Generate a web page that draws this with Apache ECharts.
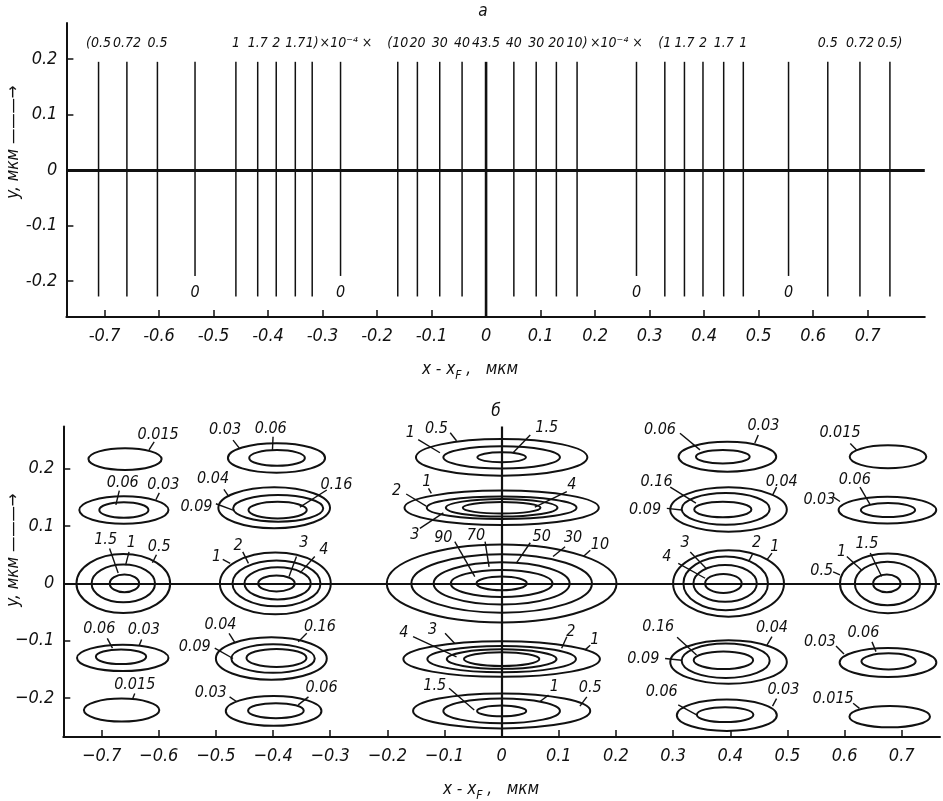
<!DOCTYPE html>
<html>
<head>
<meta charset="utf-8">
<script src="https://cdn.jsdelivr.net/npm/echarts@6/dist/echarts.min.js"></script>
<style>
  html, body { margin: 0; background: #fff; }
  #chart { width: 943px; height: 801px; }
</style>
</head>
<body>
<div id="chart"></div>
<script>
const FONT = '"Liberation Sans Narrow", "DejaVu Sans Condensed", "DejaVu Sans", sans-serif';
const INK = '#111';

// ---- panel a: intensity lines along y = 0 ----
const xTicks = [-0.7, -0.6, -0.5, -0.4, -0.3, -0.2, -0.1, 0, 0.1, 0.2, 0.3, 0.4, 0.5, 0.6, 0.7];
const yTicks = [-0.2, -0.1, 0, 0.1, 0.2];
const peakX = [-0.711, -0.659, -0.603, -0.459, -0.419, -0.385, -0.350, -0.319,
  -0.162, -0.126, -0.085, -0.044, 0, 0.051, 0.092, 0.129, 0.167,
  0.328, 0.364, 0.398, 0.436, 0.472, 0.627, 0.686, 0.741];
const peakLabels = ['(0.5', '0.72', '0.5', '1', '1.7', '2', '1.7', '1)',
  '(10', '20', '30', '40', '43.5', '40', '30', '20', '10)',
  '(1', '1.7', '2', '1.7', '1', '0.5', '0.72', '0.5)'];
const zeroX = [-0.534, -0.267, 0.276, 0.555];
const factorX = [-0.257, 0.239];
const factorLabels = ['×10⁻⁴ ×', '×10⁻⁴ ×'];

// ---- panel b: contours [cx, cy, rx, ry] ----
const contoursFar = [
  [-0.659, 0.217, 0.064, 0.019],
  [-0.661, 0.128, 0.078, 0.024],
  [-0.661, 0.128, 0.043, 0.0136],
  [-0.662, 0, 0.082, 0.0515],
  [-0.662, 0, 0.0555, 0.033],
  [-0.660, 0, 0.0257, 0.0155],
  [-0.663, -0.130, 0.080, 0.023],
  [-0.666, -0.128, 0.044, 0.0128],
  [-0.665, -0.221, 0.066, 0.020],
  [0.676, 0.221, 0.067, 0.020],
  [0.675, 0.128, 0.0854, 0.0233],
  [0.676, 0.128, 0.0475, 0.0122],
  [0.676, 0, 0.084, 0.052],
  [0.675, 0, 0.057, 0.038],
  [0.674, 0, 0.024, 0.0155],
  [0.676, -0.138, 0.0846, 0.0253],
  [0.677, -0.136, 0.0475, 0.014],
  [0.679, -0.2325, 0.0705, 0.0187]
];
const contoursSide = [
  [-0.394, 0.219, 0.085, 0.0257],
  [-0.393, 0.219, 0.0487, 0.0137],
  [-0.398, 0.132, 0.0977, 0.0358],
  [-0.391, 0.131, 0.0788, 0.0232],
  [-0.392, 0.128, 0.051, 0.0145],
  [-0.396, 0, 0.097, 0.054],
  [-0.394, 0, 0.077, 0.040],
  [-0.392, 0, 0.058, 0.028],
  [-0.394, 0, 0.032, 0.014],
  [-0.403, -0.131, 0.097, 0.037],
  [-0.400, -0.131, 0.073, 0.025],
  [-0.394, -0.130, 0.0525, 0.0157],
  [-0.399, -0.2225, 0.0837, 0.026],
  [-0.395, -0.222, 0.0487, 0.0131],
  [0.395, 0.221, 0.0854, 0.026],
  [0.387, 0.221, 0.047, 0.0117],
  [0.397, 0.129, 0.102, 0.0387],
  [0.392, 0.130, 0.077, 0.0276],
  [0.387, 0.129, 0.050, 0.0136],
  [0.397, 0, 0.097, 0.058],
  [0.392, 0, 0.074, 0.047],
  [0.391, 0, 0.0555, 0.032],
  [0.388, 0, 0.032, 0.0166],
  [0.397, -0.137, 0.102, 0.038],
  [0.392, -0.135, 0.077, 0.030],
  [0.388, -0.134, 0.052, 0.0154],
  [0.394, -0.230, 0.0875, 0.0274],
  [0.391, -0.229, 0.0495, 0.013]
];
const contoursCentre = [
  [0, 0.220, 0.150, 0.032],
  [0, 0.220, 0.102, 0.0195],
  [0, 0.220, 0.0425, 0.0087],
  [0, 0.132, 0.170, 0.030],
  [0, 0.132, 0.131, 0.0197],
  [0, 0.132, 0.0977, 0.0152],
  [0, 0.132, 0.068, 0.0101],
  [0, 0, 0.201, 0.068],
  [0, 0, 0.158, 0.051],
  [0, 0, 0.119, 0.037],
  [0, 0, 0.089, 0.0236],
  [0, 0, 0.044, 0.012],
  [0, -0.132, 0.172, 0.031],
  [0, -0.132, 0.130, 0.023],
  [0, -0.132, 0.096, 0.017],
  [0, -0.132, 0.066, 0.012],
  [0, -0.2225, 0.155, 0.0305],
  [0, -0.2225, 0.102, 0.0215],
  [0, -0.2225, 0.043, 0.0093]
];

// contour labels: [text, textX, textY, leaderX1, leaderY1, leaderX2, leaderY2]
const notes = [
  ['0.015', -0.601, 0.259, -0.608, 0.247, -0.617, 0.233],
  ['0.06', -0.663, 0.175, -0.669, 0.162, -0.675, 0.137],
  ['0.03', -0.592, 0.172, -0.599, 0.158, -0.605, 0.146],
  ['1.5', -0.693, 0.076, -0.686, 0.061, -0.671, 0.018],
  ['1', -0.648, 0.071, -0.652, 0.055, -0.658, 0.032],
  ['0.5', -0.599, 0.064, -0.604, 0.050, -0.611, 0.036],
  ['0.06', -0.704, -0.080, -0.690, -0.096, -0.681, -0.113],
  ['0.03', -0.626, -0.081, -0.630, -0.098, -0.634, -0.108],
  ['0.015', -0.642, -0.177, -0.642, -0.192, -0.646, -0.202],

  ['0.03', -0.484, 0.268, -0.470, 0.250, -0.459, 0.236],
  ['0.06', -0.404, 0.269, -0.400, 0.256, -0.401, 0.233],
  ['0.04', -0.505, 0.182, -0.486, 0.164, -0.477, 0.151],
  ['0.09', -0.534, 0.134, -0.500, 0.139, -0.470, 0.128],
  ['0.16', -0.289, 0.172, -0.306, 0.163, -0.353, 0.133],
  ['1', -0.499, 0.047, -0.488, 0.042, -0.475, 0.035],
  ['2', -0.461, 0.065, -0.453, 0.055, -0.443, 0.035],
  ['3', -0.346, 0.070, -0.359, 0.047, -0.372, 0.012],
  ['4', -0.311, 0.058, -0.327, 0.047, -0.353, 0.018],
  ['0.04', -0.492, -0.073, -0.477, -0.087, -0.467, -0.103],
  ['0.09', -0.537, -0.110, -0.502, -0.113, -0.470, -0.131],
  ['0.16', -0.318, -0.076, -0.341, -0.087, -0.356, -0.102],
  ['0.03', -0.509, -0.191, -0.476, -0.198, -0.464, -0.206],
  ['0.06', -0.315, -0.183, -0.338, -0.198, -0.356, -0.212],

  ['1', -0.160, 0.262, -0.146, 0.251, -0.108, 0.228],
  ['0.5', -0.114, 0.269, -0.090, 0.263, -0.079, 0.249],
  ['1.5', 0.079, 0.271, 0.050, 0.259, 0.020, 0.228],
  ['2', -0.184, 0.162, -0.167, 0.156, -0.132, 0.135],
  ['1', -0.131, 0.177, -0.128, 0.166, -0.123, 0.157],
  ['4', 0.123, 0.172, 0.114, 0.160, 0.058, 0.133],
  ['3', -0.152, 0.084, -0.143, 0.096, -0.102, 0.123],
  ['90', -0.102, 0.080, -0.082, 0.073, -0.047, 0.012],
  ['70', -0.045, 0.083, -0.029, 0.073, -0.022, 0.029],
  ['50', 0.070, 0.082, 0.050, 0.071, 0.026, 0.036],
  ['30', 0.125, 0.080, 0.111, 0.064, 0.090, 0.047],
  ['10', 0.172, 0.067, 0.155, 0.058, 0.143, 0.047],
  ['4', -0.171, -0.087, -0.155, -0.093, -0.079, -0.128],
  ['3', -0.121, -0.081, -0.099, -0.087, -0.082, -0.105],
  ['2', 0.121, -0.084, 0.114, -0.093, 0.105, -0.113],
  ['1', 0.163, -0.098, 0.155, -0.108, 0.146, -0.116],
  ['1.5', -0.117, -0.179, -0.092, -0.183, -0.048, -0.221],
  ['1', 0.092, -0.181, 0.082, -0.195, 0.067, -0.206],
  ['0.5', 0.155, -0.183, 0.149, -0.198, 0.137, -0.214],

  ['0.06', 0.277, 0.268, 0.312, 0.262, 0.347, 0.233],
  ['0.03', 0.458, 0.275, 0.449, 0.259, 0.443, 0.245],
  ['0.16', 0.271, 0.177, 0.295, 0.168, 0.340, 0.140],
  ['0.09', 0.251, 0.129, 0.289, 0.131, 0.315, 0.128],
  ['0.04', 0.490, 0.177, 0.481, 0.168, 0.474, 0.154],
  ['4', 0.289, 0.047, 0.309, 0.035, 0.356, 0.009],
  ['3', 0.321, 0.070, 0.330, 0.055, 0.358, 0.026],
  ['2', 0.446, 0.070, 0.439, 0.051, 0.432, 0.038],
  ['1', 0.478, 0.064, 0.473, 0.053, 0.464, 0.041],
  ['0.16', 0.274, -0.076, 0.307, -0.094, 0.341, -0.125],
  ['0.09', 0.248, -0.132, 0.286, -0.131, 0.315, -0.134],
  ['0.04', 0.473, -0.078, 0.473, -0.093, 0.464, -0.108],
  ['0.06', 0.280, -0.189, 0.309, -0.212, 0.342, -0.230],
  ['0.03', 0.493, -0.186, 0.481, -0.201, 0.474, -0.214],

  ['0.015', 0.592, 0.262, 0.610, 0.244, 0.621, 0.233],
  ['0.06', 0.618, 0.180, 0.627, 0.168, 0.645, 0.137],
  ['0.03', 0.556, 0.146, 0.580, 0.151, 0.592, 0.143],
  ['1.5', 0.639, 0.069, 0.645, 0.053, 0.665, 0.012],
  ['1', 0.595, 0.055, 0.604, 0.047, 0.630, 0.023],
  ['0.5', 0.560, 0.022, 0.580, 0.020, 0.592, 0.015],
  ['0.03', 0.557, -0.102, 0.585, -0.109, 0.599, -0.123],
  ['0.06', 0.633, -0.087, 0.648, -0.102, 0.655, -0.119],
  ['0.015', 0.580, -0.202, 0.615, -0.209, 0.626, -0.218]
];

// layout constants (data units)
const A_X = [-0.77, 0.805], A_Y = [-0.265, 0.265];
const B_X = [-0.767, 0.767], B_Y = [-0.268, 0.274];
const LINE_TOP = 0.195, LINE_BOTTOM = -0.228;
const ZERO_BOTTOM = -0.191, ZERO_LABEL_Y = -0.222, PEAK_LABEL_Y = 0.229;

const chart = echarts.init(document.getElementById('chart'));

const textStyle = (size) => ({
  fontFamily: FONT, fontStyle: 'italic', fontSize: size, fill: INK,
  align: 'center', verticalAlign: 'middle'
});

function renderPeak(params, api) {
  const x = api.value(0);
  const p1 = api.coord([x, LINE_TOP]);
  const p2 = api.coord([x, x === 0 ? A_Y[0] : LINE_BOTTOM]);
  const t = api.coord([x, PEAK_LABEL_Y]);
  return {
    type: 'group',
    children: [
      { type: 'line', shape: { x1: p1[0], y1: p1[1], x2: p2[0], y2: p2[1] },
        style: { stroke: INK, lineWidth: x === 0 ? 2.6 : 1.5 } },
      { type: 'text', x: t[0], y: t[1],
        style: Object.assign(textStyle(14), { text: peakLabels[params.dataIndex] }) }
    ]
  };
}

function renderZeroLine(params, api) {
  const x = api.value(0);
  const p1 = api.coord([x, LINE_TOP]);
  const p2 = api.coord([x, ZERO_BOTTOM]);
  const t = api.coord([x, ZERO_LABEL_Y]);
  return {
    type: 'group',
    children: [
      { type: 'line', shape: { x1: p1[0], y1: p1[1], x2: p2[0], y2: p2[1] },
        style: { stroke: INK, lineWidth: 1.5 } },
      { type: 'text', x: t[0], y: t[1], style: Object.assign(textStyle(16), { text: '0' }) }
    ]
  };
}

function renderFactor(params, api) {
  const t = api.coord([api.value(0), api.value(1)]);
  return { type: 'text', x: t[0], y: t[1],
    style: Object.assign(textStyle(14), { text: factorLabels[params.dataIndex] }) };
}

function renderEllipse(params, api) {
  const c = api.coord([api.value(0), api.value(1)]);
  const s = api.size([api.value(2), api.value(3)]);
  return {
    type: 'ellipse',
    shape: { cx: c[0], cy: c[1], rx: Math.abs(s[0]), ry: Math.abs(s[1]) },
    style: { fill: 'none', stroke: INK, lineWidth: 2 }
  };
}

function renderNote(params, api) {
  const n = notes[params.dataIndex];
  const t = api.coord([n[1], n[2]]);
  const a = api.coord([n[3], n[4]]);
  const b = api.coord([n[5], n[6]]);
  return {
    type: 'group',
    children: [
      { type: 'line', shape: { x1: a[0], y1: a[1], x2: b[0], y2: b[1] },
        style: { stroke: INK, lineWidth: 1.4 } },
      { type: 'text', x: t[0], y: t[1], style: Object.assign(textStyle(16), { text: n[0] }) }
    ]
  };
}

const fmt = (minus) => (v) => (v === 0 ? '0' : (v < 0 ? minus : '') + Math.abs(v).toFixed(1));

function xAxisFor(idx, range, minus) {
  return {
    type: 'value', gridIndex: idx, min: range[0], max: range[1], position: 'bottom',
    axisLine: { onZero: false, lineStyle: { color: INK, width: 2 } },
    axisTick: { inside: true, length: 7, customValues: xTicks, lineStyle: { color: INK, width: 1.5 } },
    axisLabel: { customValues: xTicks, formatter: fmt(minus), color: INK, fontSize: 18,
      fontStyle: 'italic', fontFamily: FONT, margin: 10 },
    splitLine: { show: false }
  };
}

function yAxisFor(idx, range, minus) {
  return {
    type: 'value', gridIndex: idx, min: range[0], max: range[1],
    axisLine: { show: true, onZero: false, lineStyle: { color: INK, width: 2 } },
    axisTick: { show: true, inside: true, length: 7, customValues: yTicks, lineStyle: { color: INK, width: 1.5 } },
    axisLabel: { customValues: yTicks, formatter: fmt(minus), color: INK, fontSize: 18,
      fontStyle: 'italic', fontFamily: FONT, margin: 9 },
    splitLine: { show: false }
  };
}

const axisTitle = (x, y) => ({
  type: 'text', x: x, y: y,
  style: {
    text: '{a|x - x}{s|F}{a| ,   мкм}',
    align: 'center', verticalAlign: 'middle',
    rich: {
      a: { fontFamily: FONT, fontStyle: 'italic', fontSize: 17, fill: INK },
      s: { fontFamily: FONT, fontStyle: 'italic', fontSize: 12, fill: INK, padding: [12, 0, 0, 0] }
    }
  }
});

const yTitle = (y) => ({
  type: 'text', x: 14, y: y, rotation: Math.PI / 2,
  style: Object.assign(textStyle(17), { text: 'y, мкм ———→' })
});

chart.setOption({
  animation: false,
  backgroundColor: '#fff',
  grid: [
    { left: 66.4, top: 23, width: 858.4, height: 294 },
    { left: 63.3, top: 426.4, width: 876.7, height: 310.6 }
  ],
  xAxis: [xAxisFor(0, A_X, '-'), xAxisFor(1, B_X, '−')],
  yAxis: [yAxisFor(0, A_Y, '-'), yAxisFor(1, B_Y, '−')],
  graphic: [
    { type: 'text', x: 483, y: 12, style: Object.assign(textStyle(17), { text: 'а' }) },
    { type: 'text', x: 496, y: 412, style: Object.assign(textStyle(17), { text: 'б' }) },
    yTitle(142),
    yTitle(550),
    axisTitle(470, 370),
    axisTitle(491, 790)
  ],
  series: [
    {
      type: 'line', xAxisIndex: 0, yAxisIndex: 0, data: [], silent: true,
      markLine: { silent: true, symbol: 'none', label: { show: false },
        lineStyle: { color: INK, width: 3, type: 'solid' }, data: [{ yAxis: 0 }] }
    },
    {
      type: 'custom', xAxisIndex: 0, yAxisIndex: 0, clip: false, silent: true,
      renderItem: renderPeak, encode: { x: 0, y: 1 },
      data: peakX.map((x) => [x, 0])
    },
    {
      type: 'custom', xAxisIndex: 0, yAxisIndex: 0, clip: false, silent: true,
      renderItem: renderZeroLine, encode: { x: 0, y: 1 },
      data: zeroX.map((x) => [x, 0])
    },
    {
      type: 'custom', xAxisIndex: 0, yAxisIndex: 0, clip: false, silent: true,
      renderItem: renderFactor, encode: { x: 0, y: 1 },
      data: factorX.map((x) => [x, PEAK_LABEL_Y])
    },
    {
      type: 'line', xAxisIndex: 1, yAxisIndex: 1, data: [], silent: true,
      markLine: { silent: true, symbol: 'none', label: { show: false },
        lineStyle: { color: INK, width: 2.2, type: 'solid' }, data: [{ yAxis: 0 }, { xAxis: 0 }] }
    },
    {
      type: 'custom', xAxisIndex: 1, yAxisIndex: 1, clip: false, silent: true,
      renderItem: renderEllipse, encode: { x: 0, y: 1 },
      data: contoursFar.concat(contoursSide, contoursCentre)
    },
    {
      type: 'custom', xAxisIndex: 1, yAxisIndex: 1, clip: false, silent: true,
      renderItem: renderNote, encode: { x: 1, y: 2 },
      data: notes.map((n) => n.slice(1))
    }
  ]
});
</script>
</body>
</html>
